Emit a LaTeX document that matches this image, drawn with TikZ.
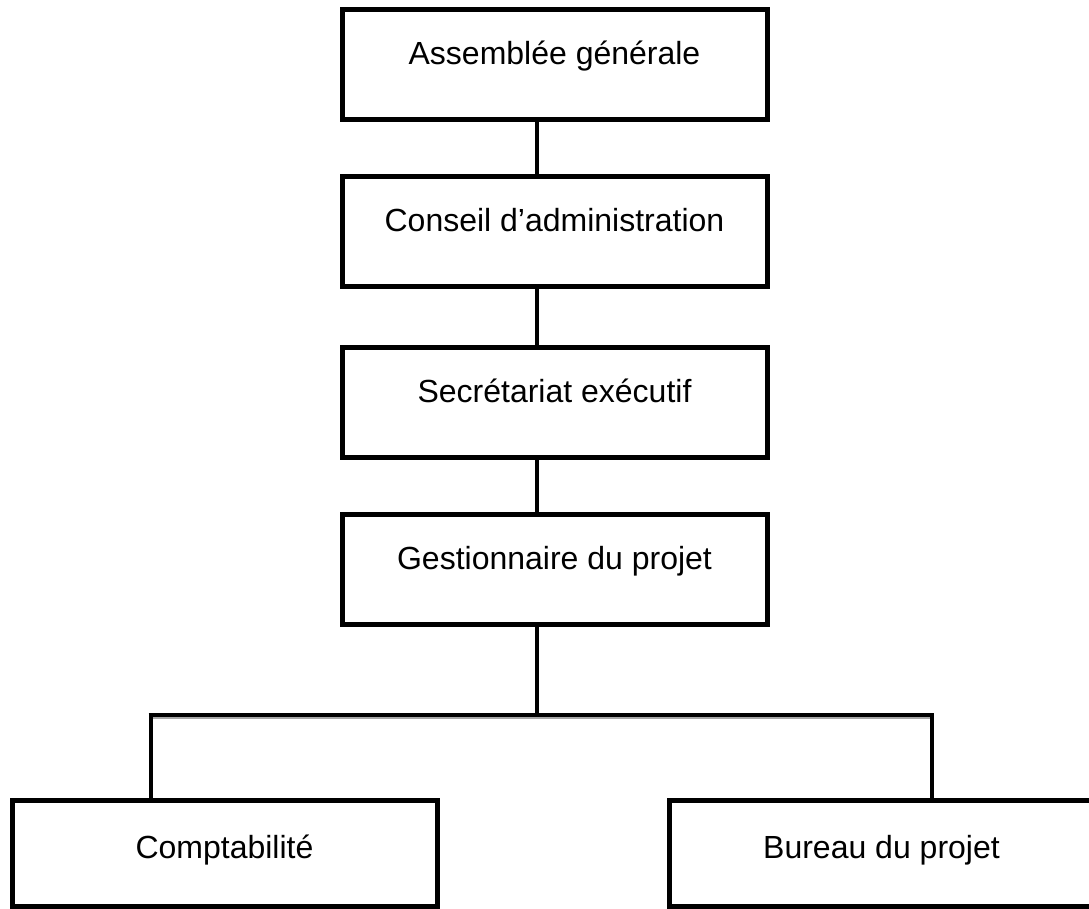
\documentclass[tikz,border=0pt]{standalone}
\usepackage{fontspec}
\setmainfont{Liberation Sans}
\begin{document}
\begin{tikzpicture}[x=0.5pt,y=-0.5pt,
  box/.style={draw, line width=2.5pt, minimum width=212.5pt, minimum height=55pt,
    inner sep=0pt, text height=27.5pt, text depth=27.5pt,
    font=\fontsize{16pt}{19pt}\selectfont},
  lowbox/.style={box, minimum height=53pt, text height=29pt, text depth=24pt},
  link/.style={line width=2.4pt},
  shade/.style={line width=0.8pt, draw=black!35}]
\clip (0,0) rectangle (1089,909);
\fill[white] (0,0) rectangle (1089,909);
\node[box] (b1) at (554.5,65) {Assemblée générale};
\node[box] (b2) at (554.5,232) {Conseil d’administration};
\node[box] (b3) at (554.5,402.5) {Secrétariat exécutif};
\node[box] (b4) at (554.5,569.5) {Gestionnaire du projet};
\node[lowbox] (b5) at (224.5,853) {Comptabilité};
\node[lowbox] (b6) at (881.5,853) {Bureau du projet};
\coordinate (axis) at (537,0);
\coordinate (jl) at (151,715);
\coordinate (jm) at (537,715);
\coordinate (jr) at (932,715);
\draw[shade] ([yshift=-1.6pt]jl) -- ([yshift=-1.6pt]jr);
\draw[link] (b1.south -| axis) -- (b2.north -| axis);
\draw[link] (b2.south -| axis) -- (b3.north -| axis);
\draw[link] (b3.south -| axis) -- (b4.north -| axis);
\draw[link] (b4.south -| axis) -- (jm);
\draw[link] ([xshift=-1.2pt]jl) -- ([xshift=1.2pt]jr);
\draw[link] (jl) -- (b5.north -| jl);
\draw[link] (jr) -- (b6.north -| jr);
\end{tikzpicture}
\end{document}
